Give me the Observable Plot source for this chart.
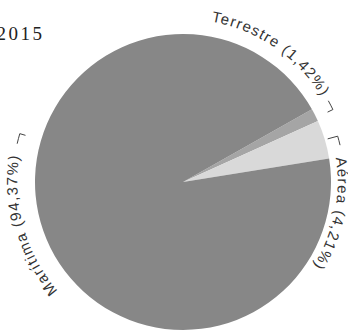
<!DOCTYPE html>
<html>
<head>
<meta charset="utf-8">
<script src="https://cdn.jsdelivr.net/npm/d3@7"></script>
<script src="https://cdn.jsdelivr.net/npm/@observablehq/plot@0.6"></script>
<style>
  html, body { margin: 0; padding: 0; background: #fff; }
  #chart { width: 348px; height: 331px; overflow: hidden; }
</style>
</head>
<body>
<div id="chart"></div>
<script>
const titulo = "2015";
const categorias = ["Terrestre", "Aérea", "Marítima"];
const porcentajes = [1.42, 4.21, 94.37];
const etiquetas = ["Terrestre (1,42%)", "Aérea (4,21%)", "Marítima (94,37%)"];
const colores = ["#a5a5a5", "#d9d9d9", "#878787"];

const datos = categorias.map((c, i) => ({categoria: c, valor: porcentajes[i], etiqueta: etiquetas[i], color: colores[i]}));

const W = 348, H = 331;
const CX = 183, CY = 182, RAD = 148;
const inicio = 60.6 * Math.PI / 180;

// per-label layout (angles in degrees clockwise from 12 o'clock, radii in pie radii)
const layout = {
  "Terrestre": {start: 10, r: 1.10},
  "Aérea": {start: 81, r: 1.045},
  "Marítima": {start: 229, r: 1.12}
};

function pieMark(index, scales, values, dimensions, context) {
  const {x, y} = scales;
  const cx = x(0), cy = y(0), R = x(1) - x(0);
  const rad = a => a * Math.PI / 180;
  const P = (a, r) => [cx + r * R * Math.sin(rad(a)), cy - r * R * Math.cos(rad(a))];
  const g = d3.create("svg:g");
  const pie = d3.pie().sort(null).value(d => d.valor).startAngle(inicio).endAngle(inicio + 2 * Math.PI);
  const arc = d3.arc().innerRadius(0).outerRadius(R);
  g.append("g").attr("transform", `translate(${cx},${cy})`)
    .selectAll("path").data(pie(datos)).join("path")
    .attr("d", arc).attr("fill", d => d.data.color);

  const defs = g.append("defs");
  datos.forEach((d, i) => {
    const L = layout[d.categoria];
    const r = L.r;
    const a0 = L.start, a1 = L.start + 120;
    const p0 = P(a0, r), p1 = P(a1, r);
    const id = "lbl" + i;
    defs.append("path").attr("id", id)
      .attr("d", `M${p0[0]},${p0[1]} A${r * R},${r * R} 0 0 1 ${p1[0]},${p1[1]}`);
    g.append("text")
      .attr("text-anchor", "start")
      .attr("font-family", "Liberation Sans, Arial, sans-serif")
      .attr("font-size", 15)
      .attr("letter-spacing", "1.3px")
      .attr("fill", "#333")
      .append("textPath")
      .attr("href", "#" + id)
      .attr("startOffset", 0)
      .text(d.etiqueta);
  });

  // leader lines
  const arcTo = (a1, r) => { const p = P(a1, r); return ` A${r * R},${r * R} 0 0 1 ${p[0]},${p[1]}`; };
  const moveTo = (a, r) => { const p = P(a, r); return `M${p[0]},${p[1]}`; };
  const lineTo = (a, r) => { const p = P(a, r); return ` L${p[0]},${p[1]}`; };
  const leaders = [
    moveTo(60.8, 1.125) + arcTo(64.2, 1.125) + lineTo(64.2, 1.085),
    moveTo(73.4, 1.02) + lineTo(73.5, 1.09) + arcTo(76.8, 1.09),
    moveTo(283, 1.15) + arcTo(286.5, 1.15) + lineTo(286.5, 1.11)
  ];
  g.selectAll("path.leader").data(leaders).join("path")
    .attr("class", "leader")
    .attr("d", d => d)
    .attr("fill", "none").attr("stroke", "#444").attr("stroke-width", 1);
  return g.node();
}

const chart = Plot.plot({
  width: W,
  height: H,
  margin: 0,
  x: {domain: [-CX / RAD, (W - CX) / RAD], axis: null},
  y: {domain: [(H - CY) / RAD, -CY / RAD], axis: null},
  marks: [
    Plot.dot([{x: 0, y: 0}], {x: "x", y: "y", r: 0, stroke: "none"}),
    pieMark,
    Plot.text([titulo], {frameAnchor: "top-left", textAnchor: "start", dx: -4, dy: 26, fontSize: 19, fontFamily: "Liberation Serif, serif", fill: "#222", text: d => d})
  ],
  style: {background: "#fff", overflow: "hidden"}
});
chart.querySelectorAll("text").forEach(t => {
  if (t.textContent === titulo) t.setAttribute("letter-spacing", "2.5px");
});
document.getElementById("chart").appendChild(chart);
</script>
</body>
</html>
